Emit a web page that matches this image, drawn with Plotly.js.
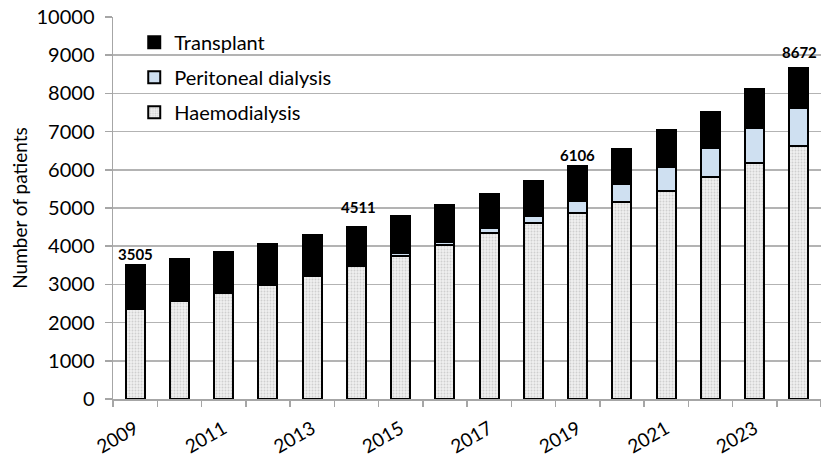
<!DOCTYPE html>
<html>
<head>
<meta charset="utf-8">
<script src="https://cdn.plot.ly/plotly-3.0.1.min.js"></script>
<style>html,body{margin:0;padding:0;background:#fff;}#chart{width:821px;height:458px;}</style>
</head>
<body>
<div id="chart"></div>
<script>
const years = [2009,2010,2011,2012,2013,2014,2015,2016,2017,2018,2019,2020,2021,2022,2023,2024];
const haemodialysis = [2360,2570,2770,2990,3230,3480,3750,4040,4340,4620,4880,5165,5450,5800,6180,6620];
const peritoneal = [null,null,null,null,null,null,70,80,130,180,310,460,620,760,920,1010];
const transplant = [1145,1100,1090,1070,1070,1031,970,965,905,915,916,915,970,965,1010,1042];
const labelYears = [2009,2014,2019,2024];
const labelTotals = [3505,4511,6106,8672];
const tickYears = [2009,2011,2013,2015,2017,2019,2021,2023];

const font = "Lato, 'Open Sans', sans-serif";
const outline = {color:'#000', width:2};

const traces = [
  {type:'bar', name:'Haemodialysis', x:years, y:haemodialysis, legendgroup:'hd', legendrank:3,
   marker:{color:'#efefef', line:outline,
     pattern:{shape:'.', fgcolor:'#cfcfcf', bgcolor:'#f0f0f0', size:3, solidity:0.3, fillmode:'replace'}}},
  {type:'bar', name:'Peritoneal dialysis', x:years, y:peritoneal, legendgroup:'pd', legendrank:2,
   marker:{color:'#cfe0f1', line:outline}},
  {type:'bar', name:'Transplant', x:years, y:transplant, legendgroup:'tx', legendrank:1,
   marker:{color:'#000', line:outline}}
];

const shifts = {2009:0, 2014:9, 2019:0, 2024:5};
const xshift = {2009:0, 2014:2, 2019:0, 2024:1};
const annotations = labelYears.map((yr,i)=>({
  x:yr, y:labelTotals[i], text:'<b>'+labelTotals[i]+'</b>', showarrow:false,
  yanchor:'bottom', yshift:shifts[yr], xshift:xshift[yr],
  font:{family:font, size:15, color:'#000'}
}));

const layout = {
  width:821, height:458,
  margin:{l:113, r:0, t:17, b:59},
  paper_bgcolor:'#fff', plot_bgcolor:'#fff',
  barmode:'stack', bargap:0.57,
  showlegend:true,
  legend:{x:0.03, y:0.985, xanchor:'left', yanchor:'top', traceorder:'grouped',
    bgcolor:'rgba(0,0,0,0)', tracegroupgap:6, itemwidth:30,
    font:{family:font, size:20, color:'#000'}},
  xaxis:{range:[2008.5,2024.5], tickvals:tickYears, ticktext:tickYears.map(String),
    tickangle:-30, ticks:'', showgrid:false, zeroline:false, ticklabelstandoff:10,
    showline:true, linecolor:'#a6a6a6', linewidth:1.5,
    minor:{tick0:2008.5, dtick:1, ticks:'outside', ticklen:6, tickcolor:'#a6a6a6', tickwidth:1.5, showgrid:false},
    tickfont:{family:font, size:19, color:'#000'}},
  yaxis:{range:[0,10000], dtick:1000, tickformat:'d', ticks:'outside', ticklen:7, tickcolor:'#a6a6a6', tickwidth:1.5,
    showline:true, linecolor:'#a6a6a6', linewidth:1.5, ticklabelstandoff:6,
    gridcolor:'#b3b3b3', gridwidth:1.5, zeroline:false,
    tickfont:{family:font, size:20, color:'#000'},
    title:{text:'Number of patients', font:{family:font, size:19, color:'#000'}, standoff:4}},
  annotations:annotations
};

Plotly.newPlot('chart', traces, layout, {displayModeBar:false, staticPlot:true});
</script>
</body>
</html>
